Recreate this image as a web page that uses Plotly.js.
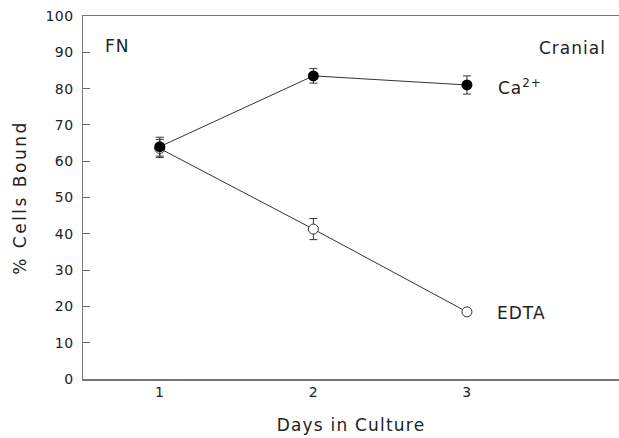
<!DOCTYPE html>
<html>
<head>
<meta charset="utf-8">
<script src="https://cdn.plot.ly/plotly-3.0.1.min.js"></script>
<style>
html,body{margin:0;padding:0;background:#fff;}
#chart{width:619px;height:438px;}
.annotation-text{letter-spacing:1px;}
.xtitle{letter-spacing:1.2px;}
.ytitle{letter-spacing:2.5px;}
.xtick text,.ytick text{letter-spacing:0.5px;font-size:14px !important;}
</style>
</head>
<body>
<div id="chart"></div>
<script>
const days = [1, 2, 3];
const caValues = [64, 83.5, 81];
const caErrors = [2.6, 2.0, 2.5];
const edtaValues = [63.5, 41.3, 18.5];
const edtaErrors = [2.5, 2.9, 0.4];
const yTickValues = [0, 10, 20, 30, 40, 50, 60, 70, 80, 90, 100];
const xTickValues = [1, 2, 3];

const FONT = 'DejaVu Sans, Liberation Sans, Arial, sans-serif';

const traces = [
  {
    x: days, y: edtaValues, type: 'scatter', mode: 'lines+markers', name: 'EDTA',
    line: {color: '#333', width: 1},
    marker: {symbol: 'circle', size: 10, color: '#fff', line: {color: '#333', width: 1}},
    error_y: {type: 'data', array: edtaErrors, visible: true, color: '#333', thickness: 1, width: 4}
  },
  {
    x: days, y: caValues, type: 'scatter', mode: 'lines+markers', name: 'Ca2+',
    line: {color: '#333', width: 1},
    marker: {symbol: 'circle', size: 11, color: '#000', line: {color: '#000', width: 0}},
    error_y: {type: 'data', array: caErrors, visible: true, color: '#333', thickness: 1, width: 4}
  }
];

const layout = {
  width: 619, height: 438,
  margin: {l: 83, r: 0, t: 16, b: 59},
  paper_bgcolor: '#fff', plot_bgcolor: '#fff',
  showlegend: false,
  font: {family: FONT, color: '#222'},
  xaxis: {
    range: [0.5, 3.99], tickvals: xTickValues, ticktext: xTickValues.map(String),
    ticks: '', showgrid: false, zeroline: false,
    showline: true, linecolor: '#777', linewidth: 1.5, mirror: true,
    tickfont: {family: FONT, size: 14, color: '#222'},
    title: {text: 'Days in Culture', font: {family: FONT, size: 17, color: '#222'}, standoff: 20}
  },
  yaxis: {
    range: [0, 100], tickvals: yTickValues, ticktext: yTickValues.map(String),
    ticks: 'inside', ticklen: 7, tickcolor: '#666', tickwidth: 1,
    showgrid: false, zeroline: false,
    showline: true, linecolor: '#777', linewidth: 1.5, mirror: false,
    tickfont: {family: FONT, size: 14, color: '#222'},
    ticklabelstandoff: 5,
    title: {text: '% Cells Bound', font: {family: FONT, size: 17, color: '#222'}, standoff: 14}
  },
  annotations: [
    {x: 0.726, y: 91.7, xref: 'x', yref: 'y', text: 'FN', showarrow: false, xanchor: 'center', yanchor: 'middle', font: {family: FONT, size: 17, color: '#222'}},
    {x: 3.684, y: 91.2, xref: 'x', yref: 'y', text: 'Cranial', showarrow: false, xanchor: 'center', yanchor: 'middle', font: {family: FONT, size: 17, color: '#222'}},
    {x: 3.19, y: 80.5, xref: 'x', yref: 'y', text: 'Ca<sup>2+</sup>', showarrow: false, xanchor: 'left', yanchor: 'middle', font: {family: FONT, size: 17, color: '#222'}},
    {x: 3.18, y: 18.3, xref: 'x', yref: 'y', text: 'EDTA', showarrow: false, xanchor: 'left', yanchor: 'middle', font: {family: FONT, size: 17, color: '#222'}}
  ]
};

Plotly.newPlot('chart', traces, layout, {staticPlot: true, displayModeBar: false});
</script>
</body>
</html>
